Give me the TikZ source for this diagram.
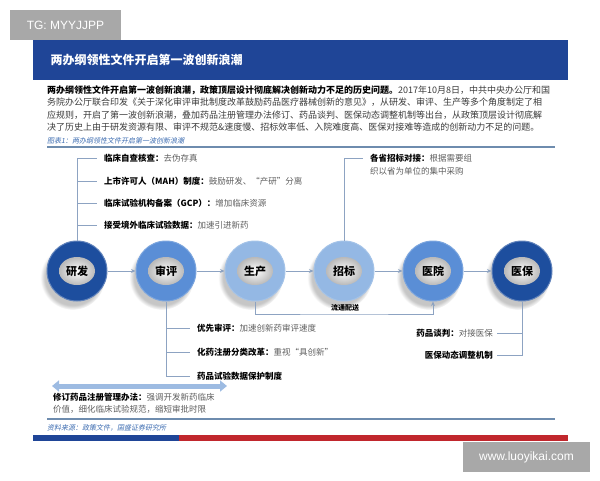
\documentclass[tikz,border=0pt]{standalone}
\usepackage{fontspec}
\setmainfont{Noto Sans CJK SC}
\newfontfamily\wmfont{Liberation Sans}
\newfontfamily\capfont{Noto Sans CJK SC}[FakeSlant=0.2]
\usepackage{tikz}
\usetikzlibrary{shapes.geometric,shadows,arrows.meta}

\definecolor{bannerblue}{HTML}{1F4597}
\definecolor{ringdark}{HTML}{1D4E9E}
\definecolor{ringmid}{HTML}{5A8ED6}
\definecolor{ringlight}{HTML}{94B8E4}
\definecolor{linegray}{HTML}{8DA3C2}
\definecolor{txtgray}{HTML}{5E5E5E}
\definecolor{txtdark}{HTML}{3A3A3A}
\definecolor{capblue}{HTML}{3B6BB0}
\definecolor{rulecol}{HTML}{6E8CAE}
\definecolor{bandred}{HTML}{C1272D}
\definecolor{wmgray}{HTML}{A8A8A8}
\definecolor{arrowblue}{HTML}{9DBBE2}

\newcommand{\gtxt}[1]{{\mdseries\color{txtgray}#1}}

\tikzset{
	ring/.style={circle, minimum size=60pt, inner sep=0pt, line width=1pt,
		circular drop shadow={shadow xshift=-4pt, shadow yshift=-6pt, shadow scale=1.08, opacity=0.45}},
	hole/.style={ellipse, minimum width=36pt, minimum height=28pt, inner sep=0pt,
		shade, inner color=white, outer color=gray!55, font=\fontsize{11}{11}\selectfont\bfseries},
	flow/.style={draw=linegray, line width=0.8pt, -{Stealth[length=4.5pt,width=4pt]}},
	brk/.style={draw=linegray, line width=0.8pt},
	item/.style={anchor=west, inner sep=0pt, font=\fontsize{8.5}{10}\selectfont},
	para/.style={anchor=west, inner sep=0pt, font=\fontsize{9}{11}\selectfont, text=txtdark},
	wm/.style={fill=wmgray, text=white, inner sep=0pt, font=\wmfont\fontsize{12}{12}\selectfont}
}

\begin{document}
\begin{tikzpicture}[x=1pt, y=-1pt]
	\useasboundingbox (0,0) rectangle (600,480);
	
	% watermarks
	\node[wm, minimum width=111pt, minimum height=30pt] (tg) at (65.5,25) {TG: MYYJJPP};
	\node[wm, minimum width=127pt, minimum height=30pt] (www) at (526.5,457) {www.luoyikai.com};
	
	% banner
	\fill[bannerblue] (33,40) rectangle (568,80);
	\node[anchor=west, text=white, font=\fontsize{12}{12}\selectfont\bfseries] (title) at (47,60) {两办纲领性文件开启第一波创新浪潮};
	
	% paragraph
	\node[para] (p1) at (47,90) {{\bfseries\color{black}两办纲领性文件开启第一波创新浪潮，政策顶层设计彻底解决创新动力不足的历史问题。}2017年10月8日，中共中央办公厅和国};
	\node[para] (p2) at (47,102.5) {务院办公厅联合印发《关于深化审评审批制度改革鼓励药品医疗器械创新的意见》，从研发、审评、生产等多个角度制定了相};
	\node[para] (p3) at (47,115) {应规则，开启了第一波创新浪潮，叠加药品注册管理办法修订、药品谈判、医保动态调整机制等出台，从政策顶层设计彻底解};
	\node[para] (p4) at (47,127.5) {决了历史上由于研发资源有限、审评不规范\&速度慢、招标效率低、入院难度高、医保对接难等造成的创新动力不足的问题。};
	
	% caption and rules
	\node[anchor=west, inner sep=0pt, text=capblue, font=\capfont\fontsize{7}{7}\selectfont] (cap) at (47,141) {图表1：两办纲领性文件开启第一波创新浪潮};
	\draw[rulecol, line width=1.2pt] (47,147) -- (555,147);
	\draw[rulecol, line width=1.2pt] (47,419) -- (555,419);
	\node[anchor=west, inner sep=0pt, text=capblue, font=\capfont\fontsize{7}{7}\selectfont] (src) at (47,428) {资料来源：政策文件，国盛证券研究所};
	
	% bottom band
	\fill[bannerblue] (33,435) rectangle (179,441);
	\fill[bandred] (179,435) rectangle (568,441);
	
	% text items
	\node[item] (a1) at (104,158) {{\bfseries 临床自查核查：}\gtxt{去伪存真}};
	\node[item] (a2) at (104,181) {{\bfseries 上市许可人（MAH）制度：}\gtxt{鼓励研发、“产研”分离}};
	\node[item] (a3) at (104,203) {{\bfseries 临床试验机构备案（GCP）：}\gtxt{增加临床资源}};
	\node[item] (a4) at (104,225) {{\bfseries 接受境外临床试验数据：}\gtxt{加速引进新药}};
	
	\node[item] (b1) at (370,158) {{\bfseries 各省招标对接：}\gtxt{根据需要组}};
	\node[item] (b2) at (370,171) {\gtxt{织以省为单位的集中采购}};
	
	\node[item] (c1) at (197,328) {{\bfseries 优先审评：}\gtxt{加速创新药审评速度}};
	\node[item] (c2) at (197,352) {{\bfseries 化药注册分类改革：}\gtxt{重视“具创新”}};
	\node[item] (c3) at (197,376) {{\bfseries 药品试验数据保护制度}};
	
	\node[item, anchor=east] (d1) at (493,333) {{\bfseries 药品谈判：}\gtxt{对接医保}};
	\node[item, anchor=east] (d2) at (493,355) {{\bfseries 医保动态调整机制}};
	
	\node[item] (e1) at (53,397) {{\bfseries 修订药品注册管理办法：}\gtxt{强调开发新药临床}};
	\node[item] (e2) at (53,409) {\gtxt{价值，细化临床试验规范，缩短审批时限}};
	
	% rings
	\node[ring, fill=ringdark, draw=ringdark!70!white] (r1) at (77,271) {};
	\node[ring, fill=ringmid, draw=ringmid!80!white] (r2) at (166,271) {};
	\node[ring, fill=ringlight, draw=ringlight!85!white] (r3) at (255,271) {};
	\node[ring, fill=ringlight, draw=ringlight!85!white] (r4) at (344,271) {};
	\node[ring, fill=ringmid, draw=ringmid!80!white] (r5) at (433,271) {};
	\node[ring, fill=ringdark, draw=ringdark!70!white] (r6) at (522,271) {};
	\node[hole] (h1) at (r1) {研发};
	\node[hole] (h2) at (r2) {审评};
	\node[hole] (h3) at (r3) {生产};
	\node[hole] (h4) at (r4) {招标};
	\node[hole] (h5) at (r5) {医院};
	\node[hole] (h6) at (r6) {医保};
	
	% chain
	\draw[flow] (r1) -- (r2);
	\draw[flow] (r2) -- (r3);
	\draw[flow] (r3) -- (r4);
	\draw[flow] (r4) -- (r5);
	\draw[flow] (r5) -- (r6);
	
	% distribution
	\coordinate (ld) at (344,314);
	\draw[flow] (r3.south) |- (ld) -| (r5.south);
	\node[font=\fontsize{7}{7}\selectfont\bfseries, inner sep=0pt] (lt) at (345,308) {流通配送};
	
	% brackets
	\draw[brk] (r1.north) |- ([xshift=-7pt]a1.west);
	\draw[brk] (r1.north |- a2.west) -- ([xshift=-7pt]a2.west);
	\draw[brk] (r1.north |- a3.west) -- ([xshift=-7pt]a3.west);
	\draw[brk] (r1.north |- a4.west) -- ([xshift=-7pt]a4.west);
	\draw[brk] (r4.north) |- ([xshift=-7pt]b1.west);
	\draw[brk] (r2.south) |- ([xshift=-7pt]c3.west);
	\draw[brk] (r2.south |- c1.west) -- ([xshift=-7pt]c1.west);
	\draw[brk] (r2.south |- c2.west) -- ([xshift=-7pt]c2.west);
	\draw[brk] (r6.south) |- ([xshift=4pt]d2.east);
	\draw[brk] (r6.south |- d1.east) -- ([xshift=4pt]d1.east);
	
	% registration rule
	\coordinate (da1) at (52,386);
	\coordinate (da2) at (227,386);
	\draw[arrowblue, line width=5pt, {Triangle[width=11pt,length=7pt]}-{Triangle[width=11pt,length=7pt]}] (da1) -- (da2);
\end{tikzpicture}
\end{document}
